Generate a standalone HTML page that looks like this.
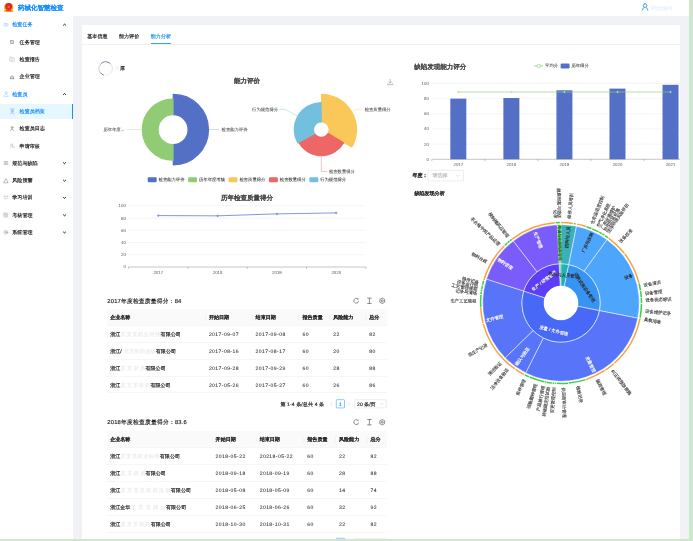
<!DOCTYPE html>
<html lang="zh"><head><meta charset="utf-8"><title>药械化智慧检查</title>
<style>

html,body{margin:0;padding:0;}
body{width:693px;height:541px;overflow:hidden;position:relative;background:#f0f2f5;
 font-family:"Liberation Sans", sans-serif;font-size:5.05px;color:rgba(0,0,0,.85);}
*{box-sizing:border-box;}
#app{position:absolute;left:0;top:0;width:693px;height:541px;overflow:hidden;will-change:transform;}
.abs{position:absolute;}
#header{position:absolute;left:0;top:0;width:693px;height:16px;background:#fff;box-shadow:0 0.4px 1.4px rgba(0,21,41,.10);}
#sider{position:absolute;left:0;top:16px;width:73px;height:525px;background:#fff;}
#card{position:absolute;left:81.5px;top:24.8px;width:598.6px;height:520px;background:#fff;}
.sel{position:absolute;left:0;top:104.1px;width:73px;height:14.6px;background:#e6f7ff;border-right:1.1px solid #1890ff;}
svg{position:absolute;left:0;top:0;}
svg text{font-family:"Liberation Sans", sans-serif;text-rendering:geometricPrecision;white-space:pre;}
.hd{position:absolute;background:#fafafa;border-bottom:1px solid #f6f6f6;}
.row{position:absolute;border-bottom:1px solid #f6f6f6;}
.gstrip{position:absolute;background:#cfe7cd;}

</style></head><body><div id="app">
<div id="card"></div>
<div id="sider"><div class="sel" style="top:88.10px"></div></div>
<div id="header"></div>
<div class="abs" style="left:81.5px;top:44.1px;width:598.6px;height:0.4px;background:#f0f0f0"></div>
<div class="abs" style="left:150.8px;top:43.4px;width:20.2px;height:1.1px;background:#1890ff;opacity:.85"></div>
<div class="hd" style="left:107.30px;top:309.00px;width:279.50px;height:16.9px"></div>
<div class="row" style="left:107.30px;top:325.90px;width:279.50px;height:16.9px"></div>
<div class="row" style="left:107.30px;top:342.80px;width:279.50px;height:16.9px"></div>
<div class="row" style="left:107.30px;top:359.70px;width:279.50px;height:16.9px"></div>
<div class="row" style="left:107.30px;top:376.60px;width:279.50px;height:16.9px"></div>
<div class="hd" style="left:107.30px;top:431.30px;width:279.50px;height:16.9px"></div>
<div class="row" style="left:107.30px;top:448.20px;width:279.50px;height:16.9px"></div>
<div class="row" style="left:107.30px;top:465.10px;width:279.50px;height:16.9px"></div>
<div class="row" style="left:107.30px;top:482.00px;width:279.50px;height:16.9px"></div>
<div class="row" style="left:107.30px;top:498.90px;width:279.50px;height:16.9px"></div>
<div class="row" style="left:107.30px;top:515.80px;width:279.50px;height:16.9px"></div>
<svg width="693" height="541" viewBox="0 0 693 541">
<defs><linearGradient id="avg" x1="0" y1="0" x2="1" y2="0.6"><stop offset="0" stop-color="#4a4f66"/><stop offset="0.55" stop-color="#b9b2b5"/><stop offset="1" stop-color="#f1eeee"/></linearGradient><filter id="b0" x="-20%" y="-20%" width="140%" height="140%"><feGaussianBlur stdDeviation="0.25"/></filter><filter id="b2" x="-20%" y="-30%" width="140%" height="160%"><feGaussianBlur stdDeviation="0.6"/></filter><filter id="b1" x="-20%" y="-20%" width="140%" height="140%"><feGaussianBlur stdDeviation="0.35"/></filter><clipPath id="cardclip"><rect x="81.5" y="25" width="598.6" height="520"/></clipPath></defs>
<rect x="427.90" y="170.30" width="35.60" height="10.70" rx="0.7" fill="#fff" stroke="#d9d9d9" stroke-width="0.45"/>
<rect x="336.30" y="399.70" width="8.20" height="8.20" rx="0.7" fill="#fff" stroke="#1890ff" stroke-width="0.50"/>
<rect x="354.30" y="399.70" width="32.00" height="8.20" rx="0.7" fill="#fff" stroke="#d9d9d9" stroke-width="0.45"/>
<rect x="336.30" y="538.20" width="8.20" height="8.20" rx="0.7" fill="#fff" stroke="#1890ff" stroke-width="0.50"/>
<rect x="354.30" y="538.20" width="32.00" height="8.20" rx="0.7" fill="#fff" stroke="#d9d9d9" stroke-width="0.45"/>
<g filter="url(#b0)"><ellipse cx="8.7" cy="7.3" rx="4.5" ry="4.6" fill="#f7a11a"/><rect x="4.0" y="9.6" width="9.4" height="2.5" rx="1.2" fill="#f9b233"/><circle cx="8.7" cy="6.6" r="3.5" fill="#e6261b"/><circle cx="8.7" cy="6.9" r="1.2" fill="#d98a1a" opacity=".7"/><path d="M6.6 10.7h4.2" stroke="#e8441b" stroke-width="1.2" stroke-linecap="round"/></g>
<text x="18.10" y="9.81" font-size="6.50" fill="#1890ff" font-weight="bold" stroke="#1890ff" stroke-width="0.04" textLength="45.50">药械化智慧检查</text>
<g fill="none" stroke="#2f96ff" stroke-width="0.85" stroke-linecap="round"><rect x="643.45" y="3.9" width="3.3" height="3.4" rx="1.3"/><path d="M642.3 10.1 a2.8 2.6 0 0 1 1.9 -2.6M647.9 10.1 a2.8 2.6 0 0 0 -1.9 -2.6"/></g>
<text x="650.30" y="9.52" font-size="5.05" fill="#dcecff" textLength="22.50" filter="url(#b1)">管理员账号</text>
<g fill="none" stroke="#1890ff" stroke-width="0.5" stroke-linecap="round" stroke-linejoin="round" opacity=".55"><rect x="4.20" y="23.30" width="3.6" height="2.8" rx="0.6"/><path d="M5.10 24.70l0.6 0.6l1 -1.1"/></g>
<path d="M63.2 25.45 l1.35 -1.25 l1.35 1.25" fill="none" stroke="#1a1a1a" stroke-width="1.0"/>
<text x="12.30" y="26.42" font-size="5.05" fill="#1890ff" stroke="#1890ff" stroke-width="0.17" textLength="20.20">检查任务</text>
<g fill="none" stroke="#595959" stroke-width="0.5" stroke-linecap="round" stroke-linejoin="round" opacity=".9"><rect x="10.40" y="40.60" width="3.2" height="2.9" rx="0.4"/><path d="M11.20 42.00l0.6 0.6l0.9 -1.1"/></g>
<text x="19.60" y="43.92" font-size="5.05" fill="#262626" stroke="#262626" stroke-width="0.17" textLength="20.20">任务管理</text>
<g fill="none" stroke="#595959" stroke-width="0.5" stroke-linecap="round" stroke-linejoin="round" opacity=".35"><rect x="9.60" y="57.10" width="3.4" height="3.6" rx="0.4"/><rect x="11.10" y="58.20" width="3.4" height="3.6" rx="0.4"/></g>
<text x="19.60" y="61.22" font-size="5.05" fill="#262626" stroke="#262626" stroke-width="0.17" textLength="20.20">检查报告</text>
<g fill="none" stroke="#595959" stroke-width="0.5" stroke-linecap="round" stroke-linejoin="round" opacity=".95"><path d="M10.20 78.70h3.8M10.60 78.70v-2l1.5 -1l1.5 1v2M12.10 76.90v1"/></g>
<text x="19.60" y="78.42" font-size="5.05" fill="#262626" stroke="#262626" stroke-width="0.17" textLength="20.20">企业管理</text>
<g fill="none" stroke="#1890ff" stroke-width="0.5" stroke-linecap="round" stroke-linejoin="round" opacity=".5"><circle cx="6.10" cy="92.70" r="1.1"/><path d="M4.30 95.50a2 2 0 0 1 3.6 0M3.80 96.60h4.6"/></g>
<path d="M63.2 94.75 l1.35 -1.25 l1.35 1.25" fill="none" stroke="#1a1a1a" stroke-width="1.0"/>
<text x="12.30" y="95.72" font-size="5.05" fill="#1890ff" stroke="#1890ff" stroke-width="0.17" textLength="15.15">检查员</text>
<g fill="none" stroke="#1890ff" stroke-width="0.5" stroke-linecap="round" stroke-linejoin="round" opacity=".8"><circle cx="12.20" cy="111.00" r="1.0"/><path d="M10.40 109.00h3.6M10.50 113.80a1.9 1.9 0 0 1 3.4 0"/></g>
<text x="19.60" y="113.12" font-size="5.05" fill="#1890ff" stroke="#1890ff" stroke-width="0.17" textLength="25.25">检查员档案</text>
<g fill="none" stroke="#595959" stroke-width="0.5" stroke-linecap="round" stroke-linejoin="round" opacity=".85"><circle cx="12.00" cy="127.50" r="1.0"/><path d="M10.40 130.90a1.9 1.9 0 0 1 2.6 -1.6l1.2 1.6"/></g>
<text x="19.60" y="130.42" font-size="5.05" fill="#262626" stroke="#262626" stroke-width="0.17" textLength="25.25">检查员日志</text>
<g fill="none" stroke="#595959" stroke-width="0.5" stroke-linecap="round" stroke-linejoin="round" opacity=".45"><circle cx="11.60" cy="144.80" r="1.0"/><path d="M9.70 148.20a2 2 0 0 1 2.8 -1.8M12.40 147.20h2.4l-0.9 -0.8"/></g>
<text x="19.60" y="147.72" font-size="5.05" fill="#262626" stroke="#262626" stroke-width="0.17" textLength="20.20">申请审核</text>
<g fill="none" stroke="#595959" stroke-width="0.5" stroke-linecap="round" stroke-linejoin="round" opacity=".8" stroke-linecap="butt" stroke-width="0.6"><path d="M4.10 161.70h1.2M5.90 161.70h1.9M4.10 163.00h1.2M5.90 163.00h1.9M4.10 164.30h1.2M5.90 164.30h1.9"/></g>
<path d="M63.2 162.45 l1.35 1.25 l1.35 -1.25" fill="none" stroke="#1a1a1a" stroke-width="1.0"/>
<text x="12.30" y="164.72" font-size="5.05" fill="#262626" stroke="#262626" stroke-width="0.17" textLength="25.25">规范与缺陷</text>
<g fill="none" stroke="#595959" stroke-width="0.5" stroke-linecap="round" stroke-linejoin="round" opacity=".8"><path d="M3.80 182.40l2.1 -3.6l2.1 3.6z"/></g>
<path d="M63.2 179.95 l1.35 1.25 l1.35 -1.25" fill="none" stroke="#1a1a1a" stroke-width="1.0"/>
<text x="12.30" y="182.22" font-size="5.05" fill="#262626" stroke="#262626" stroke-width="0.17" textLength="20.20">风险预警</text>
<g fill="none" stroke="#595959" stroke-width="0.5" stroke-linecap="round" stroke-linejoin="round" opacity=".4"><path d="M3.80 196.20h4.2M4.70 196.20v2.6h2.4v-2.6"/></g>
<path d="M63.2 197.15 l1.35 1.25 l1.35 -1.25" fill="none" stroke="#1a1a1a" stroke-width="1.0"/>
<text x="12.30" y="199.42" font-size="5.05" fill="#262626" stroke="#262626" stroke-width="0.17" textLength="20.20">学习培训</text>
<g fill="none" stroke="#595959" stroke-width="0.5" stroke-linecap="round" stroke-linejoin="round" opacity=".6"><rect x="3.90" y="213.20" width="3.8" height="3.8" rx="0.4"/><path d="M4.90 214.60h1.8M4.90 215.80h1.8"/></g>
<path d="M63.2 214.55 l1.35 1.25 l1.35 -1.25" fill="none" stroke="#1a1a1a" stroke-width="1.0"/>
<text x="12.30" y="216.82" font-size="5.05" fill="#262626" stroke="#262626" stroke-width="0.17" textLength="20.20">考核管理</text>
<g fill="none" stroke="#595959" stroke-width="0.5" stroke-linecap="round" stroke-linejoin="round" opacity=".6"><circle cx="5.90" cy="232.30" r="1.9"/><circle cx="5.90" cy="232.30" r="0.7"/></g>
<path d="M63.2 231.75 l1.35 1.25 l1.35 -1.25" fill="none" stroke="#1a1a1a" stroke-width="1.0"/>
<text x="12.30" y="234.02" font-size="5.05" fill="#262626" stroke="#262626" stroke-width="0.17" textLength="20.20">系统管理</text>
<text x="87.30" y="38.12" font-size="5.05" fill="#262626" stroke="#262626" stroke-width="0.17" textLength="20.20">基本信息</text>
<text x="119.00" y="38.12" font-size="5.05" fill="#262626" stroke="#262626" stroke-width="0.17" textLength="20.20">能力评价</text>
<text x="150.80" y="38.12" font-size="5.05" fill="#1890ff" stroke="#1890ff" stroke-width="0.17" textLength="20.20">能力分析</text>
<g fill="none" stroke-width="0.75" filter="url(#b0)">
<circle cx="105.75" cy="68.6" r="6.3" fill="#fefdfd" stroke="none"/>
<path d="M100.43 64.44A6.75 6.75 0 0 1 108.92 62.64" stroke="#5f5d73"/>
<path d="M108.50 62.43A6.75 6.75 0 0 1 110.77 64.08" stroke="#4463a6"/>
<path d="M110.61 63.91A6.75 6.75 0 0 1 109.12 74.45" stroke="#dcdcdf"/>
<path d="M109.12 74.45A6.75 6.75 0 0 1 103.44 74.94" stroke="#ececee"/>
<path d="M103.66 75.02A6.75 6.75 0 0 1 100.15 72.37" stroke="#34508f"/>
<path d="M100.29 72.57A6.75 6.75 0 0 1 100.58 64.26" stroke="#cdbbae"/>
</g>
<text x="114.60" y="70.32" font-size="5.05" fill="#ececec" filter="url(#b1)">某</text>
<text x="119.90" y="70.32" font-size="5.05" fill="#333" stroke="#333" stroke-width="0.15" filter="url(#b0)">厚</text>
<text x="246.90" y="83.11" font-size="6.50" fill="#464646" text-anchor="middle" font-weight="bold" stroke="#464646" stroke-width="0.04" textLength="26.00">能力评价</text>
<g fill="none" stroke="#7d7d7d" stroke-width="0.5"><path d="M390.2 79.0v4.1M388.4 81.4l1.8 1.8l1.8 -1.8M387.7 83.4v1.2h5.0v-1.2"/></g>
<path d="M173.28 94.45 A35.20 35.20 0 0 1 173.28 164.85 L173.18 144.55 A14.90 14.90 0 0 0 173.18 114.75 Z" fill="#5470c6" stroke="#5470c6" stroke-width="1.2" stroke-linejoin="round"/>
<path d="M172.94 160.25 A30.60 30.60 0 0 1 172.94 99.05 L173.02 114.75 A14.90 14.90 0 0 0 173.02 144.55 Z" fill="#91cc75" stroke="#91cc75" stroke-width="1.2" stroke-linejoin="round"/>
<path d="M208.9 129.65H219.3" stroke="#5470c6" stroke-width="0.4" opacity=".8"/>
<text x="221.60" y="131.12" font-size="4.33" fill="#464646" stroke="#464646" stroke-width="0.06" textLength="25.98">检查能力评价</text>
<path d="M142 129.65H126.5" stroke="#91cc75" stroke-width="0.4" opacity=".8"/>
<text x="124.30" y="131.12" font-size="4.33" fill="#464646" text-anchor="end" stroke="#464646" stroke-width="0.06">历年年度...</text>
<path d="M321.79 94.65 A35.00 35.00 0 0 1 351.85 146.73 L328.28 133.55 A8.00 8.00 0 0 0 321.41 121.65 Z" fill="#fac858" stroke="#fac858" stroke-width="1.6" stroke-linejoin="round"/>
<path d="M343.41 142.94 A25.80 25.80 0 0 1 299.19 142.94 L314.44 133.77 A8.00 8.00 0 0 0 328.16 133.77 Z" fill="#ee6666" stroke="#ee6666" stroke-width="1.6" stroke-linejoin="round"/>
<path d="M297.86 142.64 A26.80 26.80 0 0 1 320.83 102.85 L321.16 121.65 A8.00 8.00 0 0 0 314.30 133.53 Z" fill="#73c0de" stroke="#73c0de" stroke-width="1.6" stroke-linejoin="round"/>
<path d="M297.7 116.3L285.5 109.3H279.5" fill="none" stroke="#73c0de" stroke-width="0.4"/>
<text x="278.10" y="110.77" font-size="4.33" fill="#464646" text-anchor="end" stroke="#464646" stroke-width="0.06" textLength="25.98">行为规范得分</text>
<path d="M352.7 111.2L357 109.3H362.6" fill="none" stroke="#fac858" stroke-width="0.4"/>
<text x="364.70" y="110.77" font-size="4.33" fill="#464646" stroke="#464646" stroke-width="0.06" textLength="25.98">检查质量得分</text>
<path d="M321.3 156.2V171.5H327.3" fill="none" stroke="#ee6666" stroke-width="0.4"/>
<text x="328.90" y="172.97" font-size="4.33" fill="#464646" stroke="#464646" stroke-width="0.06" textLength="25.98">检查数量得分</text>
<rect x="147.70" y="177.30" width="9" height="5" rx="1.2" fill="#5470c6"/>
<text x="158.60" y="181.27" font-size="4.33" fill="#333" stroke="#333" stroke-width="0.06" textLength="25.98">检查能力评价</text>
<rect x="188.10" y="177.30" width="9" height="5" rx="1.2" fill="#91cc75"/>
<text x="199.00" y="181.27" font-size="4.33" fill="#333" stroke="#333" stroke-width="0.06" textLength="25.98">历年年度考核</text>
<rect x="228.50" y="177.30" width="9" height="5" rx="1.2" fill="#fac858"/>
<text x="239.40" y="181.27" font-size="4.33" fill="#333" stroke="#333" stroke-width="0.06" textLength="25.98">检查质量得分</text>
<rect x="268.90" y="177.30" width="9" height="5" rx="1.2" fill="#ee6666"/>
<text x="279.80" y="181.27" font-size="4.33" fill="#333" stroke="#333" stroke-width="0.06" textLength="25.98">检查数量得分</text>
<rect x="309.30" y="177.30" width="9" height="5" rx="1.2" fill="#73c0de"/>
<text x="320.20" y="181.27" font-size="4.33" fill="#333" stroke="#333" stroke-width="0.06" textLength="25.98">行为规范得分</text>
<text x="246.90" y="200.41" font-size="6.50" fill="#464646" text-anchor="middle" font-weight="bold" stroke="#464646" stroke-width="0.04" textLength="52.00">历年检查质量得分</text>
<text x="125.80" y="268.47" font-size="4.33" fill="#6e7079" text-anchor="end" stroke="#6e7079" stroke-width="0.05">0</text>
<path d="M128.6 254.76H365.9" stroke="#e0e6f1" stroke-width="0.4"/>
<text x="125.80" y="256.23" font-size="4.33" fill="#6e7079" text-anchor="end" stroke="#6e7079" stroke-width="0.05">20</text>
<path d="M128.6 242.52H365.9" stroke="#e0e6f1" stroke-width="0.4"/>
<text x="125.80" y="243.99" font-size="4.33" fill="#6e7079" text-anchor="end" stroke="#6e7079" stroke-width="0.05">40</text>
<path d="M128.6 230.28H365.9" stroke="#e0e6f1" stroke-width="0.4"/>
<text x="125.80" y="231.75" font-size="4.33" fill="#6e7079" text-anchor="end" stroke="#6e7079" stroke-width="0.05">60</text>
<path d="M128.6 218.04H365.9" stroke="#e0e6f1" stroke-width="0.4"/>
<text x="125.80" y="219.51" font-size="4.33" fill="#6e7079" text-anchor="end" stroke="#6e7079" stroke-width="0.05">80</text>
<path d="M128.6 205.80H365.9" stroke="#e0e6f1" stroke-width="0.4"/>
<text x="125.80" y="207.27" font-size="4.33" fill="#6e7079" text-anchor="end" stroke="#6e7079" stroke-width="0.05">100</text>
<path d="M128.6 267.00H365.9" stroke="#6e7079" stroke-width="0.4"/>
<path d="M128.60 267.00v1.8" stroke="#6e7079" stroke-width="0.4"/>
<path d="M187.92 267.00v1.8" stroke="#6e7079" stroke-width="0.4"/>
<path d="M247.25 267.00v1.8" stroke="#6e7079" stroke-width="0.4"/>
<path d="M306.57 267.00v1.8" stroke="#6e7079" stroke-width="0.4"/>
<path d="M365.90 267.00v1.8" stroke="#6e7079" stroke-width="0.4"/>
<text x="158.26" y="273.67" font-size="4.33" fill="#6e7079" text-anchor="middle" stroke="#6e7079" stroke-width="0.05">2017</text>
<text x="217.59" y="273.67" font-size="4.33" fill="#6e7079" text-anchor="middle" stroke="#6e7079" stroke-width="0.05">2018</text>
<text x="276.91" y="273.67" font-size="4.33" fill="#6e7079" text-anchor="middle" stroke="#6e7079" stroke-width="0.05">2019</text>
<text x="336.24" y="273.67" font-size="4.33" fill="#6e7079" text-anchor="middle" stroke="#6e7079" stroke-width="0.05">2020</text>
<polyline points="158.26,215.59 217.59,215.84 276.91,213.88 336.24,212.90" fill="none" stroke="#5470c6" stroke-width="0.72"/>
<circle cx="158.26" cy="215.59" r="0.8" fill="#b4c0e6" stroke="#5470c6" stroke-width="0.55"/>
<circle cx="217.59" cy="215.84" r="0.8" fill="#b4c0e6" stroke="#5470c6" stroke-width="0.55"/>
<circle cx="276.91" cy="213.88" r="0.8" fill="#b4c0e6" stroke="#5470c6" stroke-width="0.55"/>
<circle cx="336.24" cy="212.90" r="0.8" fill="#b4c0e6" stroke="#5470c6" stroke-width="0.55"/>
<text x="414.30" y="68.51" font-size="6.50" fill="#464646" font-weight="bold" stroke="#464646" stroke-width="0.04" textLength="52.00">缺陷发现能力评分</text>
<path d="M534.0 65.9H543.2" stroke="#91cc75" stroke-width="0.7"/><circle cx="538.6" cy="65.9" r="1.6" fill="#fff" stroke="#91cc75" stroke-width="0.7"/>
<text x="545.10" y="67.37" font-size="4.33" fill="#333" stroke="#333" stroke-width="0.06" textLength="12.99">平均分</text>
<rect x="560.6" y="63.5" width="9" height="4.9" rx="1.2" fill="#5470c6"/>
<text x="571.40" y="67.37" font-size="4.33" fill="#333" stroke="#333" stroke-width="0.06" textLength="17.32">历年得分</text>
<g clip-path="url(#cardclip)">
<text x="428.80" y="160.77" font-size="4.33" fill="#6e7079" text-anchor="end" stroke="#6e7079" stroke-width="0.05">0</text>
<path d="M431.8 144.13H700" stroke="#e0e6f1" stroke-width="0.4"/>
<text x="428.80" y="145.60" font-size="4.33" fill="#6e7079" text-anchor="end" stroke="#6e7079" stroke-width="0.05">20</text>
<path d="M431.8 128.96H700" stroke="#e0e6f1" stroke-width="0.4"/>
<text x="428.80" y="130.43" font-size="4.33" fill="#6e7079" text-anchor="end" stroke="#6e7079" stroke-width="0.05">40</text>
<path d="M431.8 113.79H700" stroke="#e0e6f1" stroke-width="0.4"/>
<text x="428.80" y="115.26" font-size="4.33" fill="#6e7079" text-anchor="end" stroke="#6e7079" stroke-width="0.05">60</text>
<path d="M431.8 98.62H700" stroke="#e0e6f1" stroke-width="0.4"/>
<text x="428.80" y="100.09" font-size="4.33" fill="#6e7079" text-anchor="end" stroke="#6e7079" stroke-width="0.05">80</text>
<path d="M431.8 83.45H700" stroke="#e0e6f1" stroke-width="0.4"/>
<text x="428.80" y="84.92" font-size="4.33" fill="#6e7079" text-anchor="end" stroke="#6e7079" stroke-width="0.05">100</text>
<rect x="450.32" y="98.62" width="16" height="60.68" fill="#5470c6"/>
<text x="458.32" y="165.77" font-size="4.33" fill="#6e7079" text-anchor="middle" stroke="#6e7079" stroke-width="0.05">2017</text>
<rect x="503.38" y="98.01" width="16" height="61.29" fill="#5470c6"/>
<text x="511.38" y="165.77" font-size="4.33" fill="#6e7079" text-anchor="middle" stroke="#6e7079" stroke-width="0.05">2018</text>
<rect x="556.42" y="90.28" width="16" height="69.02" fill="#5470c6"/>
<text x="564.42" y="165.77" font-size="4.33" fill="#6e7079" text-anchor="middle" stroke="#6e7079" stroke-width="0.05">2019</text>
<rect x="609.48" y="88.61" width="16" height="70.69" fill="#5470c6"/>
<text x="617.48" y="165.77" font-size="4.33" fill="#6e7079" text-anchor="middle" stroke="#6e7079" stroke-width="0.05">2020</text>
<rect x="662.52" y="84.82" width="16" height="74.48" fill="#5470c6"/>
<text x="670.52" y="165.77" font-size="4.33" fill="#6e7079" text-anchor="middle" stroke="#6e7079" stroke-width="0.05">2021</text>
<path d="M431.8 159.30H700" stroke="#6e7079" stroke-width="0.4"/>
<path d="M431.80 159.30v1.8" stroke="#6e7079" stroke-width="0.4"/>
<path d="M484.85 159.30v1.8" stroke="#6e7079" stroke-width="0.4"/>
<path d="M537.90 159.30v1.8" stroke="#6e7079" stroke-width="0.4"/>
<path d="M590.95 159.30v1.8" stroke="#6e7079" stroke-width="0.4"/>
<path d="M644.00 159.30v1.8" stroke="#6e7079" stroke-width="0.4"/>
<path d="M697.05 159.30v1.8" stroke="#6e7079" stroke-width="0.4"/>
<path d="M458.32 92.02H670.52" stroke="#91cc75" stroke-width="0.72" opacity=".9"/>
<circle cx="458.32" cy="92.02" r="0.75" fill="#fff" stroke="#91cc75" stroke-width="0.5"/>
<circle cx="511.38" cy="92.02" r="0.75" fill="#fff" stroke="#91cc75" stroke-width="0.5"/>
<circle cx="564.42" cy="92.02" r="0.75" fill="#fff" stroke="#91cc75" stroke-width="0.5"/>
<circle cx="617.48" cy="92.02" r="0.75" fill="#fff" stroke="#91cc75" stroke-width="0.5"/>
<circle cx="670.52" cy="92.02" r="0.75" fill="#fff" stroke="#91cc75" stroke-width="0.5"/>
</g>
<text x="412.50" y="177.42" font-size="5.05" fill="#262626" font-weight="bold" stroke="#262626" stroke-width="0.04" textLength="15.15">年度：</text>
<text x="432.40" y="177.42" font-size="5.05" fill="#bfbfbf" stroke="#bfbfbf" stroke-width="0.17" textLength="15.15">请选择</text>
<path d="M456.3 175l1.5 1.5l1.5 -1.5" fill="none" stroke="#bfbfbf" stroke-width="0.45"/>
<text x="414.40" y="195.42" font-size="5.05" fill="#262626" font-weight="bold" stroke="#262626" stroke-width="0.04" textLength="30.30">缺陷发现分析</text>
<path d="M559.08 263.75 A39.30 39.30 0 0 1 561.00 263.70 L561.00 286.00 A17.00 17.00 0 0 0 560.17 286.02 Z" fill="#49c94a" stroke="#fff" stroke-width="0.5"/>
<path d="M561.00 263.70 A39.30 39.30 0 0 1 568.77 264.48 L564.36 286.34 A17.00 17.00 0 0 0 561.00 286.00 Z" fill="#1fb3b8" stroke="#fff" stroke-width="0.5"/>
<path d="M568.77 264.48 A39.30 39.30 0 0 1 599.55 310.63 L577.68 306.30 A17.00 17.00 0 0 0 564.36 286.34 Z" fill="#3794f2" stroke="#fff" stroke-width="0.5"/>
<path d="M599.55 310.63 A39.30 39.30 0 1 1 523.58 290.99 L544.81 297.80 A17.00 17.00 0 1 0 577.68 306.30 Z" fill="#4868f7" stroke="#fff" stroke-width="0.5"/>
<path d="M523.58 290.99 A39.30 39.30 0 0 1 559.08 263.75 L560.17 286.02 A17.00 17.00 0 0 0 544.81 297.80 Z" fill="#5b3ef5" stroke="#fff" stroke-width="0.5"/>
<path d="M557.18 224.79 A78.30 78.30 0 0 1 561.00 224.70 L561.00 263.70 A39.30 39.30 0 0 0 559.08 263.75 Z" fill="#3fd23f" stroke="#fff" stroke-width="0.5"/>
<path d="M561.00 224.70 A78.30 78.30 0 0 1 576.48 226.24 L568.77 264.48 A39.30 39.30 0 0 0 561.00 263.70 Z" fill="#3cb0ba" stroke="#fff" stroke-width="0.5"/>
<path d="M576.48 226.24 A78.30 78.30 0 0 1 607.02 239.65 L584.10 271.21 A39.30 39.30 0 0 0 568.77 264.48 Z" fill="#4da6fc" stroke="#fff" stroke-width="0.5"/>
<path d="M607.02 239.65 A78.30 78.30 0 0 1 637.81 318.21 L599.55 310.63 A39.30 39.30 0 0 0 584.10 271.21 Z" fill="#4da6fc" stroke="#fff" stroke-width="0.5"/>
<path d="M637.81 318.21 A78.30 78.30 0 0 1 525.70 372.89 L543.28 338.08 A39.30 39.30 0 0 0 599.55 310.63 Z" fill="#5875fa" stroke="#fff" stroke-width="0.5"/>
<path d="M525.70 372.89 A78.30 78.30 0 0 1 505.15 357.88 L532.97 330.55 A39.30 39.30 0 0 0 543.28 338.08 Z" fill="#5875fa" stroke="#fff" stroke-width="0.5"/>
<path d="M505.15 357.88 A78.30 78.30 0 0 1 486.45 279.06 L523.58 290.99 A39.30 39.30 0 0 0 532.97 330.55 Z" fill="#5875fa" stroke="#fff" stroke-width="0.5"/>
<path d="M486.45 279.06 A78.30 78.30 0 0 1 513.33 240.88 L537.08 271.82 A39.30 39.30 0 0 0 523.58 290.99 Z" fill="#7a5cfa" stroke="#fff" stroke-width="0.5"/>
<path d="M513.33 240.88 A78.30 78.30 0 0 1 557.18 224.79 L559.08 263.75 A39.30 39.30 0 0 0 537.08 271.82 Z" fill="#7a5cfa" stroke="#fff" stroke-width="0.5"/>
<path d="M511.68 238.49 A81.20 81.20 0 0 1 554.77 222.04 L554.89 223.53 A79.70 79.70 0 0 0 512.59 239.69 Z" fill="#f7a440"/>
<path d="M555.62 221.98 A81.20 81.20 0 0 1 559.87 221.81 L559.89 223.31 A79.70 79.70 0 0 0 555.72 223.48 Z" fill="#3fd13f"/>
<path d="M561.00 221.80 A81.20 81.20 0 0 1 573.14 222.71 L572.92 224.20 A79.70 79.70 0 0 0 561.00 223.30 Z" fill="#f7a440"/>
<path d="M573.98 222.84 A81.20 81.20 0 0 1 575.66 223.13 L575.39 224.61 A79.70 79.70 0 0 0 573.74 224.33 Z" fill="#3fd13f"/>
<path d="M577.05 223.40 A81.20 81.20 0 0 1 586.09 225.77 L585.63 227.20 A79.70 79.70 0 0 0 576.75 224.87 Z" fill="#f7a440"/>
<path d="M586.77 226.00 A81.20 81.20 0 0 1 591.81 227.87 L591.24 229.26 A79.70 79.70 0 0 0 586.29 227.42 Z" fill="#3fd13f"/>
<path d="M592.47 228.14 A81.20 81.20 0 0 1 598.87 231.17 L598.17 232.50 A79.70 79.70 0 0 0 591.88 229.53 Z" fill="#3fd13f"/>
<path d="M599.50 231.51 A81.20 81.20 0 0 1 602.09 232.96 L601.33 234.26 A79.70 79.70 0 0 0 598.78 232.83 Z" fill="#3fd13f"/>
<path d="M602.70 233.33 A81.20 81.20 0 0 1 604.75 234.59 L603.94 235.86 A79.70 79.70 0 0 0 601.93 234.61 Z" fill="#3fd13f"/>
<path d="M605.34 234.98 A81.20 81.20 0 0 1 608.38 237.06 L607.51 238.28 A79.70 79.70 0 0 0 604.52 236.23 Z" fill="#3fd13f"/>
<path d="M608.96 237.47 A81.20 81.20 0 0 1 624.81 252.79 L623.63 253.71 A79.70 79.70 0 0 0 608.07 238.69 Z" fill="#f7a440"/>
<path d="M625.25 253.34 A81.20 81.20 0 0 1 639.65 282.81 L638.20 283.18 A79.70 79.70 0 0 0 624.06 254.26 Z" fill="#f7a440"/>
<path d="M639.79 283.36 A81.20 81.20 0 0 1 641.20 290.30 L639.72 290.53 A79.70 79.70 0 0 0 638.33 283.72 Z" fill="#3fd13f"/>
<path d="M641.31 291.00 A81.20 81.20 0 0 1 641.97 296.91 L640.48 297.02 A79.70 79.70 0 0 0 639.82 291.22 Z" fill="#3fd13f"/>
<path d="M642.02 297.62 A81.20 81.20 0 0 1 642.20 303.00 L640.70 303.00 A79.70 79.70 0 0 0 640.52 297.72 Z" fill="#3fd13f"/>
<path d="M642.20 303.71 A81.20 81.20 0 0 1 640.92 317.38 L639.44 317.11 A79.70 79.70 0 0 0 640.70 303.70 Z" fill="#3fd13f"/>
<path d="M640.84 317.80 A81.20 81.20 0 0 1 640.71 318.49 L639.24 318.21 A79.70 79.70 0 0 0 639.37 317.52 Z" fill="#3fd13f"/>
<path d="M640.60 319.05 A81.20 81.20 0 0 1 614.80 363.82 L613.81 362.69 A79.70 79.70 0 0 0 639.13 318.75 Z" fill="#f7a440"/>
<path d="M614.27 364.28 A81.20 81.20 0 0 1 605.82 370.71 L604.99 369.46 A79.70 79.70 0 0 0 613.29 363.15 Z" fill="#f7a440"/>
<path d="M605.22 371.10 A81.20 81.20 0 0 1 586.36 380.14 L585.89 378.71 A79.70 79.70 0 0 0 604.41 369.84 Z" fill="#f7a440"/>
<path d="M585.82 380.31 A81.20 81.20 0 0 1 568.78 383.83 L568.64 382.33 A79.70 79.70 0 0 0 585.36 378.88 Z" fill="#3fd13f"/>
<path d="M568.08 383.89 A81.20 81.20 0 0 1 556.75 384.09 L556.83 382.59 A79.70 79.70 0 0 0 567.95 382.40 Z" fill="#3fd13f"/>
<path d="M555.90 384.04 A81.20 81.20 0 0 1 554.63 383.95 L554.75 382.45 A79.70 79.70 0 0 0 556.00 382.54 Z" fill="#3fd13f"/>
<path d="M553.92 383.89 A81.20 81.20 0 0 1 552.51 383.76 L552.67 382.26 A79.70 79.70 0 0 0 554.05 382.40 Z" fill="#3fd13f"/>
<path d="M551.81 383.68 A81.20 81.20 0 0 1 546.62 382.92 L546.89 381.44 A79.70 79.70 0 0 0 551.98 382.19 Z" fill="#3fd13f"/>
<path d="M546.06 382.81 A81.20 81.20 0 0 1 544.67 382.54 L544.97 381.07 A79.70 79.70 0 0 0 546.34 381.34 Z" fill="#3fd13f"/>
<path d="M544.12 382.43 A81.20 81.20 0 0 1 529.27 377.74 L529.86 376.36 A79.70 79.70 0 0 0 544.43 380.96 Z" fill="#3fd13f"/>
<path d="M528.62 377.47 A81.20 81.20 0 0 1 524.52 375.54 L525.19 374.20 A79.70 79.70 0 0 0 529.22 376.09 Z" fill="#3fd13f"/>
<path d="M524.01 375.29 A81.20 81.20 0 0 1 515.12 370.00 L515.97 368.76 A79.70 79.70 0 0 0 524.69 373.95 Z" fill="#f7a440"/>
<path d="M514.54 369.60 A81.20 81.20 0 0 1 503.58 360.42 L504.64 359.36 A79.70 79.70 0 0 0 515.40 368.37 Z" fill="#f7a440"/>
<path d="M503.38 360.22 A81.20 81.20 0 0 1 502.79 359.61 L503.86 358.56 A79.70 79.70 0 0 0 504.45 359.16 Z" fill="#3fd13f"/>
<path d="M502.59 359.41 A81.20 81.20 0 0 1 482.57 324.02 L484.02 323.63 A79.70 79.70 0 0 0 503.67 358.36 Z" fill="#f7a440"/>
<path d="M482.35 323.19 A81.20 81.20 0 0 1 479.96 308.10 L481.46 308.00 A79.70 79.70 0 0 0 483.80 322.82 Z" fill="#f7a440"/>
<path d="M479.93 307.53 A81.20 81.20 0 0 1 480.22 294.79 L481.71 294.95 A79.70 79.70 0 0 0 481.42 307.45 Z" fill="#3fd13f"/>
<path d="M480.29 294.09 A81.20 81.20 0 0 1 480.57 291.84 L482.06 292.05 A79.70 79.70 0 0 0 481.78 294.25 Z" fill="#3fd13f"/>
<path d="M480.65 291.28 A81.20 81.20 0 0 1 480.94 289.46 L482.42 289.71 A79.70 79.70 0 0 0 482.13 291.49 Z" fill="#3fd13f"/>
<path d="M481.03 288.90 A81.20 81.20 0 0 1 481.72 285.43 L483.19 285.75 A79.70 79.70 0 0 0 482.51 289.16 Z" fill="#3fd13f"/>
<path d="M481.88 284.73 A81.20 81.20 0 0 1 482.95 280.62 L484.39 281.03 A79.70 79.70 0 0 0 483.34 285.07 Z" fill="#3fd13f"/>
<path d="M483.18 279.80 A81.20 81.20 0 0 1 503.88 245.28 L504.94 246.35 A79.70 79.70 0 0 0 484.62 280.23 Z" fill="#f7a440"/>
<path d="M504.39 244.79 A81.20 81.20 0 0 1 506.46 242.85 L507.46 243.96 A79.70 79.70 0 0 0 505.44 245.86 Z" fill="#3fd13f"/>
<path d="M506.88 242.47 A81.20 81.20 0 0 1 509.02 240.62 L509.98 241.77 A79.70 79.70 0 0 0 507.88 243.59 Z" fill="#3fd13f"/>
<path d="M509.46 240.25 A81.20 81.20 0 0 1 511.34 238.75 L512.26 239.94 A79.70 79.70 0 0 0 510.41 241.41 Z" fill="#3fd13f"/>
<text x="543.95" y="282.26" font-size="4.33" fill="#fff" stroke="#fff" stroke-width="0.13" text-anchor="middle" transform="rotate(322.50 543.95 280.79)">生产 / 经营管理</text>
<text x="553.84" y="332.16" font-size="4.33" fill="#fff" stroke="#fff" stroke-width="0.13" text-anchor="middle" transform="rotate(374.50 553.84 330.69)">质量 / 文件管理</text>
<text x="584.46" y="288.83" font-size="4.33" fill="#2b2b2b" stroke="#2b2b2b" stroke-width="0.13" text-anchor="middle" textLength="34.64" transform="rotate(56.30 584.46 287.35)">厂房设施设备管理</text>
<text x="563.78" y="276.61" font-size="4.33" fill="#2b2b2b" stroke="#2b2b2b" stroke-width="0.13" text-anchor="middle" textLength="30.31" transform="rotate(5.70 563.78 275.14)">机构与人员管理</text>
<text x="538.14" y="241.66" font-size="4.33" fill="#fff" stroke="#fff" stroke-width="0.13" text-anchor="middle" textLength="17.32" transform="rotate(430.00 538.14 240.19)">生产管理</text>
<text x="505.18" y="265.39" font-size="4.33" fill="#fff" stroke="#fff" stroke-width="0.13" text-anchor="middle" textLength="17.32" transform="rotate(395.00 505.18 263.92)">物料管理</text>
<text x="494.61" y="319.80" font-size="4.33" fill="#fff" stroke="#fff" stroke-width="0.13" text-anchor="middle" textLength="17.32" transform="rotate(347.00 494.61 318.33)">文件管理</text>
<text x="522.22" y="357.85" font-size="4.33" fill="#fff" stroke="#fff" stroke-width="0.13" text-anchor="middle" textLength="21.65" transform="rotate(306.00 522.22 356.37)">确认与验证</text>
<text x="590.66" y="365.82" font-size="4.33" fill="#fff" stroke="#fff" stroke-width="0.13" text-anchor="middle" textLength="17.32" transform="rotate(64.20 590.66 364.35)">质量管理</text>
<text x="628.47" y="278.03" font-size="4.33" fill="#2b2b2b" stroke="#2b2b2b" stroke-width="0.13" text-anchor="middle" textLength="8.66" transform="rotate(-21.40 628.47 276.56)">设备</text>
<text x="587.52" y="244.06" font-size="4.33" fill="#2b2b2b" stroke="#2b2b2b" stroke-width="0.13" text-anchor="middle" textLength="21.65" transform="rotate(-66.30 587.52 242.59)">厂房与设施</text>
<text x="567.55" y="238.82" font-size="4.33" fill="#2b2b2b" stroke="#2b2b2b" stroke-width="0.13" text-anchor="middle" textLength="21.65" transform="rotate(-84.30 567.55 237.35)">机构与人员</text>
<text x="559.64" y="244.39" font-size="3.90" fill="#1c6b1c" stroke="#1c6b1c" stroke-width="0.13" text-anchor="middle" textLength="35.10" transform="rotate(448.70 559.64 243.07)">培训与健康档案管理</text>
<text x="555.69" y="220.04" font-size="4.33" fill="#444" stroke="#444" stroke-width="0.13" text-anchor="end" textLength="8.66" transform="rotate(446.40 555.69 218.57)">记录</text>
<text x="559.38" y="219.89" font-size="4.33" fill="#444" stroke="#444" stroke-width="0.13" text-anchor="end" textLength="30.31" transform="rotate(448.90 559.38 218.42)">健康档案与培训</text>
<text x="569.11" y="220.26" font-size="4.33" fill="#444" stroke="#444" stroke-width="0.13" text-anchor="start" textLength="25.98" transform="rotate(-84.50 569.11 218.79)">操作人员培训</text>
<text x="591.73" y="225.65" font-size="4.33" fill="#444" stroke="#444" stroke-width="0.13" text-anchor="start" textLength="30.31" transform="rotate(-68.70 591.73 224.18)">仓库温湿度控制</text>
<text x="597.82" y="228.31" font-size="4.33" fill="#444" stroke="#444" stroke-width="0.13" text-anchor="start" textLength="25.98" transform="rotate(-64.20 597.82 226.83)">空气净化系统</text>
<text x="602.01" y="230.48" font-size="4.33" fill="#444" stroke="#444" stroke-width="0.13" text-anchor="start" textLength="25.98" transform="rotate(-61.00 602.01 229.01)">厂房设施维护</text>
<text x="605.08" y="232.26" font-size="4.33" fill="#444" stroke="#444" stroke-width="0.13" text-anchor="start" textLength="25.98" transform="rotate(-58.60 605.08 230.79)">防虫防鼠设施</text>
<text x="608.06" y="234.17" font-size="4.33" fill="#444" stroke="#444" stroke-width="0.13" text-anchor="start" textLength="34.64" transform="rotate(-56.20 608.06 232.70)">洁净环境风险评估</text>
<text x="619.77" y="243.62" font-size="4.33" fill="#444" stroke="#444" stroke-width="0.13" text-anchor="start" textLength="17.32" transform="rotate(-46.00 619.77 242.14)">设备校准</text>
<text x="643.75" y="286.88" font-size="4.33" fill="#444" stroke="#444" stroke-width="0.13" text-anchor="start" textLength="17.32" transform="rotate(-12.00 643.75 285.41)">设备清洁</text>
<text x="645.06" y="294.90" font-size="4.33" fill="#444" stroke="#444" stroke-width="0.13" text-anchor="start" textLength="17.32" transform="rotate(-6.50 645.06 293.42)">设备管理</text>
<text x="645.55" y="301.52" font-size="4.33" fill="#444" stroke="#444" stroke-width="0.13" text-anchor="start" textLength="25.98" transform="rotate(-2.00 645.55 300.05)">设备状态标识</text>
<text x="645.21" y="312.58" font-size="4.33" fill="#444" stroke="#444" stroke-width="0.13" text-anchor="start" textLength="25.98" transform="rotate(5.50 645.21 311.11)">设备维护记录</text>
<text x="644.05" y="320.61" font-size="4.33" fill="#444" stroke="#444" stroke-width="0.13" text-anchor="start" textLength="17.32" transform="rotate(11.00 644.05 319.14)">臭氧消毒</text>
<text x="612.27" y="371.77" font-size="4.33" fill="#444" stroke="#444" stroke-width="0.13" text-anchor="start" textLength="30.31" transform="rotate(52.70 612.27 370.30)">纠正和预防措施</text>
<text x="597.42" y="380.83" font-size="4.33" fill="#444" stroke="#444" stroke-width="0.13" text-anchor="start" textLength="17.32" transform="rotate(64.50 597.42 379.36)">偏差管理</text>
<text x="577.87" y="387.37" font-size="4.33" fill="#444" stroke="#444" stroke-width="0.13" text-anchor="start" textLength="17.32" transform="rotate(78.50 577.87 385.90)">检验记录</text>
<text x="563.51" y="389.03" font-size="4.33" fill="#444" stroke="#444" stroke-width="0.13" text-anchor="start" textLength="30.31" transform="rotate(88.30 563.51 387.56)">供应商审计管理</text>
<text x="554.07" y="388.79" font-size="4.33" fill="#444" stroke="#444" stroke-width="0.13" text-anchor="end" textLength="25.98" transform="rotate(274.70 554.07 387.32)">变更管理控制</text>
<text x="548.35" y="388.12" font-size="4.33" fill="#444" stroke="#444" stroke-width="0.13" text-anchor="end" textLength="30.31" transform="rotate(278.60 548.35 386.65)">持续稳定性试验</text>
<text x="543.41" y="387.22" font-size="4.33" fill="#444" stroke="#444" stroke-width="0.13" text-anchor="end" textLength="25.98" transform="rotate(282.00 543.41 385.75)">产品放行管理</text>
<text x="535.98" y="385.29" font-size="4.33" fill="#444" stroke="#444" stroke-width="0.13" text-anchor="end" textLength="25.98" transform="rotate(287.20 535.98 383.82)">试验菌种管理</text>
<text x="524.58" y="380.83" font-size="4.33" fill="#444" stroke="#444" stroke-width="0.13" text-anchor="end" textLength="17.32" transform="rotate(295.50 524.58 379.36)">留样管理</text>
<text x="507.76" y="370.22" font-size="4.33" fill="#444" stroke="#444" stroke-width="0.13" text-anchor="end" textLength="25.98" transform="rotate(309.00 507.76 368.75)">洁净设备验证</text>
<text x="500.97" y="364.08" font-size="4.33" fill="#444" stroke="#444" stroke-width="0.13" text-anchor="end" textLength="17.32" transform="rotate(315.20 500.97 362.61)">清洁验证</text>
<text x="487.37" y="346.13" font-size="4.33" fill="#444" stroke="#444" stroke-width="0.13" text-anchor="end" textLength="21.65" transform="rotate(330.50 487.37 344.66)">批生产记录</text>
<text x="476.42" y="302.70" font-size="4.33" fill="#444" stroke="#444" stroke-width="0.13" text-anchor="end" textLength="25.98" transform="rotate(361.20 476.42 301.23)">生产工艺规程</text>
<text x="476.96" y="294.75" font-size="4.33" fill="#444" stroke="#444" stroke-width="0.13" text-anchor="end" textLength="21.65" transform="rotate(366.60 476.96 293.28)">记录与清场</text>
<text x="477.49" y="290.95" font-size="4.33" fill="#444" stroke="#444" stroke-width="0.13" text-anchor="end" textLength="25.98" transform="rotate(369.20 477.49 289.47)">工艺管理规程</text>
<text x="478.16" y="287.32" font-size="4.33" fill="#444" stroke="#444" stroke-width="0.13" text-anchor="end" textLength="21.65" transform="rotate(371.70 478.16 285.84)">设备运行图</text>
<text x="478.91" y="284.01" font-size="4.33" fill="#444" stroke="#444" stroke-width="0.13" text-anchor="end" textLength="17.32" transform="rotate(374.00 478.91 282.53)">操作记录</text>
<text x="487.01" y="263.46" font-size="4.33" fill="#444" stroke="#444" stroke-width="0.13" text-anchor="end" textLength="17.32" transform="rotate(389.00 487.01 261.99)">物料台账</text>
<text x="499.53" y="246.34" font-size="4.33" fill="#444" stroke="#444" stroke-width="0.13" text-anchor="end" textLength="38.97" transform="rotate(403.40 499.53 244.87)">不合格中间产品处理</text>
<text x="508.22" y="238.36" font-size="4.33" fill="#444" stroke="#444" stroke-width="0.13" text-anchor="end" textLength="30.31" transform="rotate(411.40 508.22 236.88)">模制槽药品管理</text>
<circle cx="561.0" cy="303.0" r="17.0" fill="#fff"/>
<text x="107.30" y="303.06" font-size="5.77" fill="#262626" stroke="#262626" stroke-width="0.17" textLength="74.00">2017年度检查质量得分：84</text>
<g fill="none" stroke="#454545" stroke-width="0.6">
<path d="M358.6 301.20 a2.4 2.4 0 1 1 -0.75 -2.25"/>
<path d="M358.3 298.20 v1.1 h-1.1" stroke-width="0.4"/>
<path d="M367.2 298.10h4.4M367.2 303.50h4.4M369.4 298.10v5.4"/>
<path d="M382.25 298.00l2.4 1.4v2.8l-2.4 1.4l-2.4 -1.4v-2.8z"/><circle cx="382.25" cy="300.80" r="1.0"/>
</g>
<text x="110.20" y="319.17" font-size="5.05" fill="#262626" font-weight="bold" stroke="#262626" stroke-width="0.04" textLength="20.20">企业名称</text>
<text x="208.90" y="319.17" font-size="5.05" fill="#262626" font-weight="bold" stroke="#262626" stroke-width="0.04" textLength="20.20">开始日期</text>
<text x="255.60" y="319.17" font-size="5.05" fill="#262626" font-weight="bold" stroke="#262626" stroke-width="0.04" textLength="20.20">结束日期</text>
<text x="302.50" y="319.17" font-size="5.05" fill="#262626" font-weight="bold" stroke="#262626" stroke-width="0.04" textLength="20.20">报告质量</text>
<text x="333.20" y="319.17" font-size="5.05" fill="#262626" font-weight="bold" stroke="#262626" stroke-width="0.04" textLength="20.20">风险能力</text>
<text x="369.20" y="319.17" font-size="5.05" fill="#262626" font-weight="bold" stroke="#262626" stroke-width="0.04" textLength="10.10">总分</text>
<path d="M205.50 314.55v5.8" stroke="#e4e4e4" stroke-width="0.4"/>
<path d="M252.20 314.55v5.8" stroke="#e4e4e4" stroke-width="0.4"/>
<path d="M299.10 314.55v5.8" stroke="#e4e4e4" stroke-width="0.4"/>
<path d="M329.80 314.55v5.8" stroke="#e4e4e4" stroke-width="0.4"/>
<path d="M365.80 314.55v5.8" stroke="#e4e4e4" stroke-width="0.4"/>
<text x="110.20" y="336.07" font-size="5.05" fill="#262626" stroke="#262626" stroke-width="0.17" textLength="10.10">浙江</text>
<text x="120.60" y="336.07" font-size="5.05" fill="#ededed" stroke="#ededed" stroke-width="0.20" textLength="39.70" filter="url(#b2)">某某某药业科技</text>
<text x="160.60" y="336.07" font-size="5.05" fill="#262626" stroke="#262626" stroke-width="0.17" textLength="20.20">有限公司</text>
<text x="208.90" y="336.07" font-size="5.05" fill="#303030" stroke="#303030" stroke-width="0.07" letter-spacing="0.42">2017-09-07</text>
<text x="255.60" y="336.07" font-size="5.05" fill="#303030" stroke="#303030" stroke-width="0.07" letter-spacing="0.42">2017-09-08</text>
<text x="302.50" y="336.07" font-size="5.05" fill="#303030" stroke="#303030" stroke-width="0.07" letter-spacing="0.42">60</text>
<text x="333.20" y="336.07" font-size="5.05" fill="#303030" stroke="#303030" stroke-width="0.07" letter-spacing="0.42">22</text>
<text x="369.20" y="336.07" font-size="5.05" fill="#303030" stroke="#303030" stroke-width="0.07" letter-spacing="0.42">82</text>
<text x="110.20" y="352.97" font-size="5.05" fill="#262626" stroke="#262626" stroke-width="0.17">浙江/</text>
<text x="124.05" y="352.97" font-size="5.05" fill="#ededed" stroke="#ededed" stroke-width="0.20" textLength="31.45" filter="url(#b2)">某某医药连锁</text>
<text x="155.80" y="352.97" font-size="5.05" fill="#262626" stroke="#262626" stroke-width="0.17" textLength="20.20">有限公司</text>
<text x="208.90" y="352.97" font-size="5.05" fill="#303030" stroke="#303030" stroke-width="0.07" letter-spacing="0.42">2017-08-16</text>
<text x="255.60" y="352.97" font-size="5.05" fill="#303030" stroke="#303030" stroke-width="0.07" letter-spacing="0.42">2017-08-17</text>
<text x="302.50" y="352.97" font-size="5.05" fill="#303030" stroke="#303030" stroke-width="0.07" letter-spacing="0.42">60</text>
<text x="333.20" y="352.97" font-size="5.05" fill="#303030" stroke="#303030" stroke-width="0.07" letter-spacing="0.42">20</text>
<text x="369.20" y="352.97" font-size="5.05" fill="#303030" stroke="#303030" stroke-width="0.07" letter-spacing="0.42">80</text>
<text x="110.20" y="369.87" font-size="5.05" fill="#262626" stroke="#262626" stroke-width="0.17" textLength="10.10">浙江</text>
<text x="120.60" y="369.87" font-size="5.05" fill="#ededed" stroke="#ededed" stroke-width="0.20" textLength="24.60" filter="url(#b2)">某某药房</text>
<text x="145.50" y="369.87" font-size="5.05" fill="#262626" stroke="#262626" stroke-width="0.17" textLength="20.20">有限公司</text>
<text x="208.90" y="369.87" font-size="5.05" fill="#303030" stroke="#303030" stroke-width="0.07" letter-spacing="0.42">2017-09-28</text>
<text x="255.60" y="369.87" font-size="5.05" fill="#303030" stroke="#303030" stroke-width="0.07" letter-spacing="0.42">2017-09-29</text>
<text x="302.50" y="369.87" font-size="5.05" fill="#303030" stroke="#303030" stroke-width="0.07" letter-spacing="0.42">60</text>
<text x="333.20" y="369.87" font-size="5.05" fill="#303030" stroke="#303030" stroke-width="0.07" letter-spacing="0.42">28</text>
<text x="369.20" y="369.87" font-size="5.05" fill="#303030" stroke="#303030" stroke-width="0.07" letter-spacing="0.42">88</text>
<text x="110.20" y="386.77" font-size="5.05" fill="#262626" stroke="#262626" stroke-width="0.17" textLength="10.10">浙江</text>
<text x="120.60" y="386.77" font-size="5.05" fill="#ededed" stroke="#ededed" stroke-width="0.20" textLength="29.50" filter="url(#b2)">某某某医药</text>
<text x="150.40" y="386.77" font-size="5.05" fill="#262626" stroke="#262626" stroke-width="0.17" textLength="20.20">有限公司</text>
<text x="208.90" y="386.77" font-size="5.05" fill="#303030" stroke="#303030" stroke-width="0.07" letter-spacing="0.42">2017-05-26</text>
<text x="255.60" y="386.77" font-size="5.05" fill="#303030" stroke="#303030" stroke-width="0.07" letter-spacing="0.42">2017-05-27</text>
<text x="302.50" y="386.77" font-size="5.05" fill="#303030" stroke="#303030" stroke-width="0.07" letter-spacing="0.42">60</text>
<text x="333.20" y="386.77" font-size="5.05" fill="#303030" stroke="#303030" stroke-width="0.07" letter-spacing="0.42">26</text>
<text x="369.20" y="386.77" font-size="5.05" fill="#303030" stroke="#303030" stroke-width="0.07" letter-spacing="0.42">86</text>
<text x="280.40" y="405.52" font-size="5.05" fill="#262626" stroke="#262626" stroke-width="0.17" textLength="43.70">第 1-4 条/总共 4 条</text>
<path d="M332.2 402.20l-1.5 1.6l1.5 1.6M348.0 402.20l1.5 1.6l-1.5 1.6" fill="none" stroke="#c8c8c8" stroke-width="0.45"/>
<text x="340.40" y="405.52" font-size="5.05" fill="#1890ff" text-anchor="middle" stroke="#1890ff" stroke-width="0.17">1</text>
<text x="357.10" y="405.52" font-size="5.05" fill="#262626" stroke="#262626" stroke-width="0.17">20 条/页</text>
<path d="M380.6 403.20l1.4 1.4l1.4 -1.4" fill="none" stroke="#bfbfbf" stroke-width="0.45"/>
<text x="107.30" y="424.46" font-size="5.77" fill="#262626" stroke="#262626" stroke-width="0.17" textLength="79.50">2018年度检查质量得分：83.6</text>
<g fill="none" stroke="#454545" stroke-width="0.6">
<path d="M358.6 422.60 a2.4 2.4 0 1 1 -0.75 -2.25"/>
<path d="M358.3 419.60 v1.1 h-1.1" stroke-width="0.4"/>
<path d="M367.2 419.50h4.4M367.2 424.90h4.4M369.4 419.50v5.4"/>
<path d="M382.25 419.40l2.4 1.4v2.8l-2.4 1.4l-2.4 -1.4v-2.8z"/><circle cx="382.25" cy="422.20" r="1.0"/>
</g>
<text x="110.20" y="441.47" font-size="5.05" fill="#262626" font-weight="bold" stroke="#262626" stroke-width="0.04" textLength="20.20">企业名称</text>
<text x="215.60" y="441.47" font-size="5.05" fill="#262626" font-weight="bold" stroke="#262626" stroke-width="0.04" textLength="20.20">开始日期</text>
<text x="259.70" y="441.47" font-size="5.05" fill="#262626" font-weight="bold" stroke="#262626" stroke-width="0.04" textLength="20.20">结束日期</text>
<text x="307.30" y="441.47" font-size="5.05" fill="#262626" font-weight="bold" stroke="#262626" stroke-width="0.04" textLength="20.20">报告质量</text>
<text x="339.00" y="441.47" font-size="5.05" fill="#262626" font-weight="bold" stroke="#262626" stroke-width="0.04" textLength="20.20">风险能力</text>
<text x="370.50" y="441.47" font-size="5.05" fill="#262626" font-weight="bold" stroke="#262626" stroke-width="0.04" textLength="10.10">总分</text>
<path d="M212.20 436.85v5.8" stroke="#e4e4e4" stroke-width="0.4"/>
<path d="M256.30 436.85v5.8" stroke="#e4e4e4" stroke-width="0.4"/>
<path d="M303.90 436.85v5.8" stroke="#e4e4e4" stroke-width="0.4"/>
<path d="M335.60 436.85v5.8" stroke="#e4e4e4" stroke-width="0.4"/>
<path d="M367.10 436.85v5.8" stroke="#e4e4e4" stroke-width="0.4"/>
<text x="110.20" y="458.37" font-size="5.05" fill="#262626" stroke="#262626" stroke-width="0.17" textLength="10.10">浙江</text>
<text x="120.60" y="458.37" font-size="5.05" fill="#ededed" stroke="#ededed" stroke-width="0.20" textLength="38.90" filter="url(#b2)">某某某药业科技</text>
<text x="159.80" y="458.37" font-size="5.05" fill="#262626" stroke="#262626" stroke-width="0.17" textLength="20.20">有限公司</text>
<text x="215.60" y="458.37" font-size="5.05" fill="#303030" stroke="#303030" stroke-width="0.07" letter-spacing="0.42">2018-05-22</text>
<text x="259.70" y="458.37" font-size="5.05" fill="#303030" stroke="#303030" stroke-width="0.07" letter-spacing="0.42">20218-05-22</text>
<text x="307.30" y="458.37" font-size="5.05" fill="#303030" stroke="#303030" stroke-width="0.07" letter-spacing="0.42">60</text>
<text x="339.00" y="458.37" font-size="5.05" fill="#303030" stroke="#303030" stroke-width="0.07" letter-spacing="0.42">22</text>
<text x="370.50" y="458.37" font-size="5.05" fill="#303030" stroke="#303030" stroke-width="0.07" letter-spacing="0.42">82</text>
<text x="110.20" y="475.27" font-size="5.05" fill="#262626" stroke="#262626" stroke-width="0.17" textLength="10.10">浙江</text>
<text x="120.60" y="475.27" font-size="5.05" fill="#ededed" stroke="#ededed" stroke-width="0.20" textLength="24.70" filter="url(#b2)">某某药房</text>
<text x="145.60" y="475.27" font-size="5.05" fill="#262626" stroke="#262626" stroke-width="0.17" textLength="20.20">有限公司</text>
<text x="215.60" y="475.27" font-size="5.05" fill="#303030" stroke="#303030" stroke-width="0.07" letter-spacing="0.42">2018-09-18</text>
<text x="259.70" y="475.27" font-size="5.05" fill="#303030" stroke="#303030" stroke-width="0.07" letter-spacing="0.42">2018-09-19</text>
<text x="307.30" y="475.27" font-size="5.05" fill="#303030" stroke="#303030" stroke-width="0.07" letter-spacing="0.42">60</text>
<text x="339.00" y="475.27" font-size="5.05" fill="#303030" stroke="#303030" stroke-width="0.07" letter-spacing="0.42">28</text>
<text x="370.50" y="475.27" font-size="5.05" fill="#303030" stroke="#303030" stroke-width="0.07" letter-spacing="0.42">88</text>
<text x="110.20" y="492.17" font-size="5.05" fill="#262626" stroke="#262626" stroke-width="0.17" textLength="10.10">浙江</text>
<text x="120.60" y="492.17" font-size="5.05" fill="#ededed" stroke="#ededed" stroke-width="0.20" textLength="49.90" filter="url(#b2)">某某某某医药连锁</text>
<text x="170.80" y="492.17" font-size="5.05" fill="#262626" stroke="#262626" stroke-width="0.17" textLength="20.20">有限公司</text>
<text x="215.60" y="492.17" font-size="5.05" fill="#303030" stroke="#303030" stroke-width="0.07" letter-spacing="0.42">2018-05-08</text>
<text x="259.70" y="492.17" font-size="5.05" fill="#303030" stroke="#303030" stroke-width="0.07" letter-spacing="0.42">2018-05-09</text>
<text x="307.30" y="492.17" font-size="5.05" fill="#303030" stroke="#303030" stroke-width="0.07" letter-spacing="0.42">60</text>
<text x="339.00" y="492.17" font-size="5.05" fill="#303030" stroke="#303030" stroke-width="0.07" letter-spacing="0.42">14</text>
<text x="370.50" y="492.17" font-size="5.05" fill="#303030" stroke="#303030" stroke-width="0.07" letter-spacing="0.42">74</text>
<text x="110.20" y="509.07" font-size="5.05" fill="#262626" stroke="#262626" stroke-width="0.17" textLength="20.20">浙江金华</text>
<text x="130.70" y="509.07" font-size="5.05" fill="#ededed" stroke="#ededed" stroke-width="0.20" textLength="35.00" filter="url(#b2)">某某某药业</text>
<text x="166.00" y="509.07" font-size="5.05" fill="#262626" stroke="#262626" stroke-width="0.17" textLength="20.20">有限公司</text>
<text x="215.60" y="509.07" font-size="5.05" fill="#303030" stroke="#303030" stroke-width="0.07" letter-spacing="0.42">2018-06-25</text>
<text x="259.70" y="509.07" font-size="5.05" fill="#303030" stroke="#303030" stroke-width="0.07" letter-spacing="0.42">2018-06-26</text>
<text x="307.30" y="509.07" font-size="5.05" fill="#303030" stroke="#303030" stroke-width="0.07" letter-spacing="0.42">60</text>
<text x="339.00" y="509.07" font-size="5.05" fill="#303030" stroke="#303030" stroke-width="0.07" letter-spacing="0.42">32</text>
<text x="370.50" y="509.07" font-size="5.05" fill="#303030" stroke="#303030" stroke-width="0.07" letter-spacing="0.42">92</text>
<text x="110.20" y="525.97" font-size="5.05" fill="#262626" stroke="#262626" stroke-width="0.17" textLength="10.10">浙江</text>
<text x="120.60" y="525.97" font-size="5.05" fill="#ededed" stroke="#ededed" stroke-width="0.20" textLength="29.80" filter="url(#b2)">某某某医药</text>
<text x="150.70" y="525.97" font-size="5.05" fill="#262626" stroke="#262626" stroke-width="0.17" textLength="20.20">有限公司</text>
<text x="215.60" y="525.97" font-size="5.05" fill="#303030" stroke="#303030" stroke-width="0.07" letter-spacing="0.42">2018-10-30</text>
<text x="259.70" y="525.97" font-size="5.05" fill="#303030" stroke="#303030" stroke-width="0.07" letter-spacing="0.42">2018-10-31</text>
<text x="307.30" y="525.97" font-size="5.05" fill="#303030" stroke="#303030" stroke-width="0.07" letter-spacing="0.42">60</text>
<text x="339.00" y="525.97" font-size="5.05" fill="#303030" stroke="#303030" stroke-width="0.07" letter-spacing="0.42">22</text>
<text x="370.50" y="525.97" font-size="5.05" fill="#303030" stroke="#303030" stroke-width="0.07" letter-spacing="0.42">82</text>
</svg>
<div class="gstrip" style="left:689px;top:0;width:4px;height:541px"></div>
<div class="gstrip" style="left:0;top:538.8px;width:693px;height:2.2px"></div>
</div></body></html>
